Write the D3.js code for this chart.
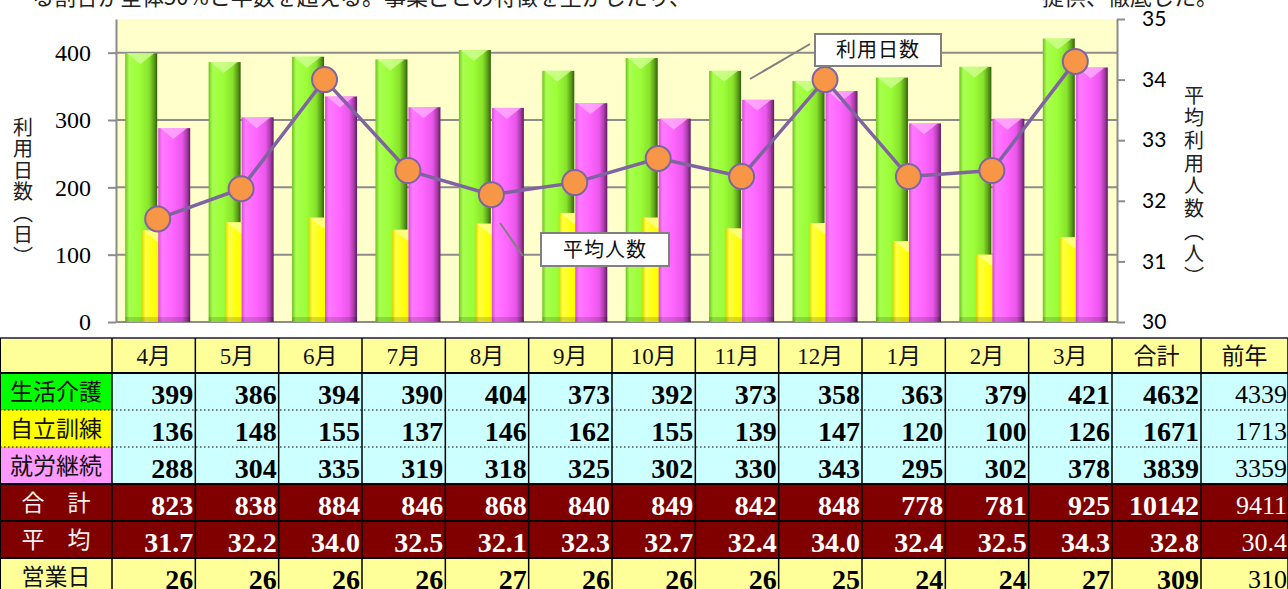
<!DOCTYPE html>
<html>
<head>
<meta charset="utf-8">
<script src="https://cdn.jsdelivr.net/npm/d3@7"></script>
<style>
  body { margin: 0; background: #fff; }
  svg { display: block; }
</style>
</head>
<body>
<svg id="chart" width="1288" height="589"></svg>
<script>
// months shown on the chart and in the table
const months = ['4月', '5月', '6月', '7月', '8月', '9月', '10月', '11月', '12月', '1月', '2月', '3月']
// 利用日数 per service
const seikatsu = [399, 386, 394, 390, 404, 373, 392, 373, 358, 363, 379, 421]
const jiritsu = [136, 148, 155, 137, 146, 162, 155, 139, 147, 120, 100, 126]
const shuro = [288, 304, 335, 319, 318, 325, 302, 330, 343, 295, 302, 378]
// monthly totals, averages and working days
const gokei = [823, 838, 884, 846, 868, 840, 849, 842, 848, 778, 781, 925]
const heikin = [31.7, 32.2, 34.0, 32.5, 32.1, 32.3, 32.7, 32.4, 34.0, 32.4, 32.5, 34.3]
const eigyo = [26, 26, 26, 26, 27, 26, 26, 26, 25, 24, 24, 27]
// 合計 and 前年 columns (same row order as the table)
const totalCol = [4632, 1671, 3839, 10142, 32.8, 309]
const prevCol = [4339, 1713, 3359, 9411, 30.4, 310]
// axis ticks
const leftTicks = [0, 100, 200, 300, 400]
const rightTicks = [30, 31, 32, 33, 34, 35]

const CJK = '"Noto Sans CJK JP", sans-serif'
const SERIF = '"Liberation Serif", "Times New Roman", serif'

const svg = d3.select('#chart')
const defs = svg.append('defs')

// cylinder-ish shading for the bars
const gradient = (id, stops) => {
  const g = defs.append('linearGradient').attr('id', id)
    .attr('x1', 0).attr('x2', 1).attr('y1', 0).attr('y2', 0)
  stops.forEach(([o, c]) => g.append('stop').attr('offset', o).attr('stop-color', c))
}
gradient('gG', [[0, '#6fbf1f'], [0.12, '#a8ff4f'], [0.45, '#9cff38'], [0.75, '#88e22b'], [0.9, '#5a9e18'], [1, '#33600a']])
gradient('gY', [[0, '#d6d600'], [0.12, '#ffff40'], [0.45, '#ffff00'], [0.75, '#e8e800'], [0.9, '#a8a800'], [1, '#6b6b00']])
gradient('gM', [[0, '#d64fd6'], [0.12, '#ff7aff'], [0.45, '#ff66ff'], [0.75, '#ea56ea'], [0.9, '#a63ca6'], [1, '#5e1a5e']])

// ---------- top text (cut off by the page edge) ----------
svg.append('text').attr('x', 32).attr('y', 5)
  .style('font-family', CJK).style('font-size', '22px').attr('fill', '#222')
  .text('る割合が全体50%と半数を超える。事業ごとの特徴を生かしたり、')
svg.append('text').attr('x', 1042).attr('y', 5)
  .style('font-family', CJK).style('font-size', '22px').attr('fill', '#222')
  .text('提供、徹底した。')

// ---------- chart ----------
const x = d3.scaleBand().domain(months).range([116, 1117])
const yL = d3.scaleLinear().domain([0, 450]).range([322, 19])
const yR = d3.scaleLinear().domain([30, 35]).range([322, 19])

svg.append('rect')
  .attr('x', 116).attr('y', 19).attr('width', 1001).attr('height', 303)
  .attr('fill', '#ffffcc')

// grid lines
svg.append('g').selectAll('line')
  .data(leftTicks.slice(1))
  .join('line')
  .attr('x1', 116).attr('x2', 1117)
  .attr('y1', (d) => yL(d)).attr('y2', (d) => yL(d))
  .attr('stroke', '#8c8c8c').attr('stroke-width', 2)

const styleAxis = (g, font, size) => {
  g.select('.domain').attr('stroke', '#8c8c8c').attr('stroke-width', 2)
  g.selectAll('.tick line').attr('stroke', '#8c8c8c').attr('stroke-width', 2)
  g.selectAll('.tick text').attr('fill', '#000')
    .style('font-family', font).style('font-size', size)
}

svg.append('g')
  .attr('transform', 'translate(116,0)')
  .call(d3.axisLeft(yL).tickValues(leftTicks).tickSize(8).tickSizeOuter(0).tickPadding(17))
  .call((g) => styleAxis(g, SERIF, '24px'))

svg.append('g')
  .attr('transform', 'translate(1117,0)')
  .call(d3.axisRight(yR).tickValues(rightTicks).tickFormat(d3.format('d'))
    .tickSize(8).tickSizeOuter(0).tickPadding(17))
  .call((g) => styleAxis(g, 'Lato, "Open Sans", sans-serif', '21px'))

// bottom axis line
svg.append('line')
  .attr('x1', 116).attr('x2', 1117).attr('y1', 322).attr('y2', 322)
  .attr('stroke', '#8c8c8c').attr('stroke-width', 2)

// bars: green behind, yellow in the middle, magenta in front
const BAR_W = 32
const STEP = 16.5
const series = [
  { values: seikatsu, fill: 'url(#gG)', cap: '#d4ff99', k: 0 },
  { values: jiritsu, fill: 'url(#gY)', cap: '#ffffa0', k: 1 },
  { values: shuro, fill: 'url(#gM)', cap: '#ffb3ff', k: 2 }
]

series.forEach((s) => {
  const g = svg.append('g')
  const data = months.map((m, i) => ({ m, v: s.values[i] }))
  const bx = (d) => x(d.m) + x.bandwidth() / 2 - (BAR_W + 2 * STEP) / 2 + s.k * STEP
  const bars = g.selectAll('g').data(data).join('g')
  bars.append('rect')
    .attr('x', bx).attr('y', (d) => yL(d.v))
    .attr('width', BAR_W).attr('height', (d) => yL(0) - yL(d.v))
    .attr('fill', s.fill)
  // light chevron cap on top
  bars.append('polygon')
    .attr('points', (d) => {
      const x0 = bx(d), y0 = yL(d.v)
      return `${x0 + 2},${y0} ${x0 + BAR_W - 3},${y0} ${x0 + BAR_W / 2 - 1},${y0 + 11}`
    })
    .attr('fill', s.cap).attr('opacity', 0.75)
  // darker base
  bars.append('rect')
    .attr('x', bx).attr('y', yL(0) - 5)
    .attr('width', BAR_W).attr('height', 5)
    .attr('fill', '#000').attr('opacity', 0.15)
})

// average line on the right axis
const points = months.map((m, i) => ({ m, v: heikin[i] }))
const line = d3.line()
  .x((d) => x(d.m) + x.bandwidth() / 2)
  .y((d) => yR(d.v))

svg.append('path')
  .datum(points)
  .attr('d', line)
  .attr('fill', 'none')
  .attr('stroke', '#8064a2')
  .attr('stroke-width', 3.5)

svg.append('g').selectAll('circle')
  .data(points)
  .join('circle')
  .attr('cx', (d) => x(d.m) + x.bandwidth() / 2)
  .attr('cy', (d) => yR(d.v))
  .attr('r', 12.5)
  .attr('fill', '#f79646')
  .attr('stroke', '#8064a2')
  .attr('stroke-width', 2)

// callouts
const callout = (label, bx, by, w, h, lx1, ly1, lx2, ly2) => {
  svg.append('line')
    .attr('x1', lx1).attr('y1', ly1).attr('x2', lx2).attr('y2', ly2)
    .attr('stroke', '#808080').attr('stroke-width', 2)
  svg.append('rect')
    .attr('x', bx).attr('y', by).attr('width', w).attr('height', h)
    .attr('fill', '#fff').attr('stroke', '#808080').attr('stroke-width', 2)
  svg.append('text')
    .attr('x', bx + w / 2).attr('y', by + h / 2 + 7)
    .attr('text-anchor', 'middle')
    .style('font-family', CJK).style('font-size', '20px').attr('fill', '#111')
    .style('letter-spacing', '1px')
    .text(label)
}
callout('利用日数', 815, 34, 126, 32, 810, 44, 750, 79)
callout('平均人数', 541, 233, 128, 33, 500, 223, 523, 256)

// vertical axis titles
const vTitle = (label, cx, top, spacing) => {
  svg.append('text')
    .attr('x', cx).attr('y', top)
    .style('writing-mode', 'vertical-rl')
    .style('font-family', CJK).style('font-size', '20px')
    .style('letter-spacing', spacing)
    .attr('fill', '#222')
    .text(label)
}
vTitle('利用日数（日）', 23, 117, '1.5px')
vTitle('平均利用人数（人）', 1194, 85, '2.7px')

// ---------- table ----------
const tx = d3.scaleBand().domain(months).range([112, 1112])
const colEdges = [0, ...months.map((m) => tx(m)), 1112, 1201, 1288]
const rowEdges = [338, 373, 410, 447, 484, 521, 558, 595]

const fmt1 = d3.format('.1f')
const rows = [
  { label: '生活介護', values: seikatsu, labelBg: '#00ff00', bg: '#ccffff', color: '#000', fmt: String },
  { label: '自立訓練', values: jiritsu, labelBg: '#ffff00', bg: '#ccffff', color: '#000', fmt: String },
  { label: '就労継続', values: shuro, labelBg: '#ff99ff', bg: '#ccffff', color: '#000', fmt: String },
  { label: '合　計', values: gokei, labelBg: '#800000', bg: '#800000', color: '#fff', fmt: String },
  { label: '平　均', values: heikin, labelBg: '#800000', bg: '#800000', color: '#fff', fmt: fmt1 },
  { label: '営業日', values: eigyo, labelBg: '#ffff99', bg: '#ffff99', color: '#000', fmt: String }
]

const table = svg.append('g')

// header row
table.append('rect')
  .attr('x', 0).attr('y', rowEdges[0]).attr('width', 1288).attr('height', rowEdges[1] - rowEdges[0])
  .attr('fill', '#ffff99')
const headers = [...months, '合計', '前年']
table.selectAll('.hdr')
  .data(headers)
  .join('text')
  .attr('class', 'hdr')
  .attr('x', (d, i) => (colEdges[i + 1] + colEdges[i + 2]) / 2)
  .attr('y', rowEdges[1] - 9)
  .attr('text-anchor', 'middle')
  .style('font-family', SERIF + ', ' + CJK)
  .style('font-size', '23px')
  .attr('fill', '#111')
  .text((d) => d)

rows.forEach((r, ri) => {
  const top = rowEdges[ri + 1]
  const h = rowEdges[ri + 2] - top
  table.append('rect').attr('x', 0).attr('y', top).attr('width', 112).attr('height', h).attr('fill', r.labelBg)
  table.append('rect').attr('x', 112).attr('y', top).attr('width', 1176).attr('height', h).attr('fill', r.bg)
  table.append('text')
    .attr('x', 56).attr('y', top + h / 2 + 8)
    .attr('text-anchor', 'middle')
    .style('font-family', CJK).style('font-size', '23px')
    .attr('fill', r.color === '#fff' ? '#f2f2f2' : '#111')
    .text(r.label)

  const cells = [...r.values.map(r.fmt), r.fmt(totalCol[ri])]
  table.append('g').selectAll('text')
    .data(cells)
    .join('text')
    .attr('x', (d, i) => colEdges[i + 2] - 2)
    .attr('y', top + h - 6)
    .attr('text-anchor', 'end')
    .style('font-family', SERIF).style('font-size', '28px').style('font-weight', 'bold')
    .attr('fill', r.color)
    .text((d) => d)

  table.append('text')
    .attr('x', 1287).attr('y', top + h - 7)
    .attr('text-anchor', 'end')
    .style('font-family', SERIF).style('font-size', '26px')
    .attr('fill', r.color)
    .text(r.fmt(prevCol[ri]))
})

// horizontal borders
const solidRows = [338, 373, 484, 521, 558]
table.selectAll('.hl')
  .data(solidRows)
  .join('line')
  .attr('class', 'hl')
  .attr('x1', 0).attr('x2', 1288)
  .attr('y1', (d) => d).attr('y2', (d) => d)
  .attr('stroke', (d) => d === 338 ? '#555' : '#000')
  .attr('stroke-width', 2)
table.selectAll('.dl')
  .data([410, 447])
  .join('line')
  .attr('class', 'dl')
  .attr('x1', 0).attr('x2', 1288)
  .attr('y1', (d) => d).attr('y2', (d) => d)
  .attr('stroke', '#000').attr('stroke-width', 1.2)
  .attr('stroke-dasharray', '1.5,2.5')

// vertical borders
table.selectAll('.vl')
  .data(colEdges)
  .join('line')
  .attr('class', 'vl')
  .attr('x1', (d) => d).attr('x2', (d) => d)
  .attr('y1', 338).attr('y2', 589)
  .attr('stroke', '#000')
  .attr('stroke-width', (d) => d === 0 ? 2 : 1.5)
</script>
</body>
</html>
